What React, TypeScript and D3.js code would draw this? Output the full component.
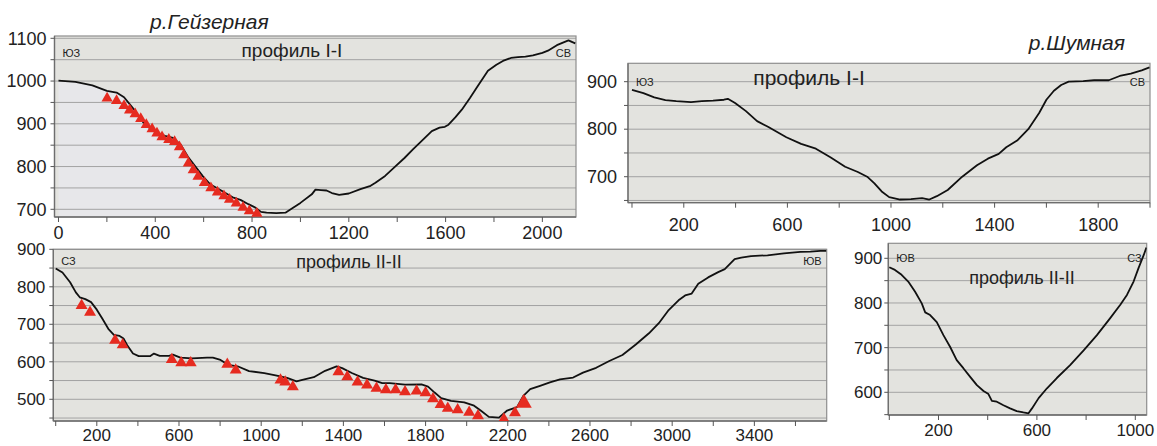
import * as d3 from "d3";

// --- р.Гейзерная, профиль I-I (distance m, elevation m)
const geyserProfile1 = [
  [0, 1001], [70, 998], [140, 990], [200, 977], [240, 973], [271, 962], [310, 935], [349, 904],
  [380, 888], [411, 877], [440, 872], [473, 867], [504, 852], [535, 823], [566, 800], [597, 777],
  [628, 758], [660, 748], [690, 738], [720, 728], [752, 722], [785, 712], [814, 704], [837, 694],
  [860, 692], [900, 691], [938, 692], [960, 700], [1000, 715], [1047, 735], [1062, 746], [1085, 745],
  [1108, 744], [1130, 738], [1160, 734], [1200, 737], [1248, 747], [1290, 755], [1310, 762],
  [1350, 778], [1388, 798], [1430, 820], [1465, 840], [1510, 865], [1543, 883], [1575, 891],
  [1597, 893], [1612, 898], [1640, 915], [1667, 933], [1700, 960], [1729, 985], [1775, 1024],
  [1810, 1038], [1837, 1047], [1870, 1054], [1899, 1056], [1930, 1057], [1961, 1060], [2000, 1066],
  [2023, 1071], [2060, 1084], [2085, 1090], [2108, 1095], [2124, 1091], [2136, 1088],
];
const geyserMarks1 = [
  [201, 960], [240, 954], [271, 942], [294, 932], [317, 923], [340, 912], [363, 898], [387, 888],
  [407, 878], [428, 869], [456, 863], [480, 858], [500, 846], [518, 827], [537, 808], [557, 792],
  [577, 777], [603, 762], [630, 750], [657, 740], [684, 731], [707, 723], [735, 714], [763, 704],
  [789, 696], [820, 690],
];

// --- р.Шумная, профиль I-I
const shumProfile1 = [
  [0, 883], [44, 876], [86, 867], [129, 861], [171, 859], [228, 857], [270, 859], [313, 860],
  [355, 862], [370, 864], [398, 855], [440, 838], [483, 817], [525, 805], [596, 783], [653, 769],
  [710, 759], [766, 741], [823, 721], [872, 710], [908, 700], [936, 686], [964, 669], [993, 657],
  [1035, 652], [1077, 653], [1120, 655], [1148, 652], [1177, 659], [1219, 672], [1275, 700],
  [1332, 724], [1374, 738], [1416, 748], [1445, 762], [1487, 776], [1530, 800], [1572, 834],
  [1600, 862], [1629, 881], [1657, 893], [1686, 900], [1742, 901], [1784, 903], [1841, 903],
  [1883, 912], [1926, 917], [1968, 924], [1998, 930],
];

// --- р.Гейзерная, профиль II-II
const geyserProfile2 = [
  [0, 849], [33, 838], [70, 812], [98, 785], [117, 772], [144, 767], [172, 759], [200, 739],
  [228, 714], [256, 688], [283, 672], [311, 669], [330, 662], [348, 644], [376, 622], [404, 615],
  [459, 615], [478, 622], [506, 616], [552, 616], [570, 619], [607, 611], [663, 609], [737, 611],
  [765, 611], [802, 605], [839, 592], [885, 588], [941, 575], [1015, 570], [1070, 564], [1126, 557],
  [1172, 548], [1200, 552], [1256, 559], [1311, 576], [1367, 588], [1394, 583], [1441, 570],
  [1496, 557], [1552, 550], [1589, 543], [1626, 543], [1663, 541], [1700, 539], [1780, 540],
  [1812, 534], [1844, 518], [1876, 503], [1924, 496], [1988, 492], [2036, 483], [2068, 470],
  [2108, 453], [2157, 451], [2197, 470], [2245, 479], [2277, 510], [2309, 527], [2357, 536],
  [2405, 545], [2454, 553], [2518, 558], [2566, 571], [2630, 584], [2694, 602], [2758, 618],
  [2823, 646], [2887, 676], [2935, 703], [2983, 738], [3031, 764], [3063, 777], [3095, 782],
  [3127, 808], [3175, 825], [3224, 839], [3256, 847], [3304, 874], [3336, 878], [3384, 882],
  [3464, 884], [3544, 889], [3624, 893], [3673, 894], [3721, 896], [3750, 896],
];
const geyserMarks2 = [
  [126, 750], [167, 732], [289, 657], [326, 645], [565, 606], [611, 597], [657, 597], [835, 593],
  [876, 578], [1094, 551], [1117, 546], [1154, 533], [1376, 573], [1419, 560], [1469, 546],
  [1515, 538], [1561, 529], [1607, 525], [1654, 525], [1700, 520], [1756, 522], [1800, 517],
  [1836, 501], [1873, 486], [1908, 476], [1956, 472], [2012, 465], [2055, 456], [2181, 447],
  [2235, 464],
];
const geyserBigMarks2 = [[2278, 490]];

// --- р.Шумная, профиль II-II
const shumProfile2 = [
  [0, 880], [23, 874], [50, 863], [77, 848], [105, 825], [132, 799], [146, 779], [166, 773],
  [193, 757], [220, 728], [247, 702], [274, 672], [301, 654], [328, 635], [356, 616], [383, 603],
  [403, 596], [417, 581], [437, 579], [464, 571], [491, 564], [518, 558], [545, 555], [566, 553],
  [580, 564], [607, 587], [641, 609], [681, 632], [735, 661], [790, 694], [844, 728], [898, 766],
  [939, 796], [966, 818], [993, 848], [1013, 878], [1034, 907], [1045, 924],
];

// tick labels
const ticksXGeyser1 = [0, 400, 800, 1200, 1600, 2000];
const ticksXShum1 = [200, 600, 1000, 1400, 1800];
const ticksXGeyser2 = [200, 600, 1000, 1400, 1800, 2200, 2600, 3000, 3400];
const ticksXShum2 = [200, 600, 1000];
const ticksYGeyser1 = [700, 800, 900, 1000, 1100];
const ticksYShum1 = [700, 800, 900];
const ticksYGeyser2 = [500, 600, 700, 800, 900];
const ticksYShum2 = [600, 700, 800, 900];

const FONT = "'Liberation Sans', Arial, sans-serif";
const BG = "#e3e3df";
const RED = "#e62b20";

type Pt = number[];

interface PanelProps {
  id: string;
  box: { l: number; r: number; t: number; b: number };
  xDom: [number, number];
  yDom: [number, number];
  profile: Pt[];
  marks?: Pt[];
  bigMarks?: Pt[];
  markSize?: number;
  xLabels: number[];
  yLabels: number[];
  xMax: number;
  fontSize: number;
  labelGap: number;
  xLabelDy: number;
  title: string;
  titleX: number;
  titleY: number;
  titleSize: number;
  dirL: string;
  dirR: string;
  dirY: number;
  shade?: number;
}

function Panel(p: PanelProps) {
  const { box } = p;
  const x = d3.scaleLinear().domain(p.xDom).range([box.l, box.r]);
  const y = d3.scaleLinear().domain(p.yDom).range([box.b, box.t]);
  const line = d3.line<Pt>().x(d => x(d[0])).y(d => y(d[1])).curve(d3.curveLinear);

  const grid = d3.range(Math.ceil(p.yDom[0] / 50) * 50, p.yDom[1] + 0.1, 50);
  const xTicks = d3.range(0, p.xMax + 1, 200);
  const tri = d3.symbol(d3.symbolTriangle, p.markSize ?? 55)() as string;
  const triBig = d3.symbol(d3.symbolTriangle, 110)() as string;

  let shadePath: string | null = null;
  if (p.shade) {
    const pts = p.profile.filter(d => d[0] <= p.shade!);
    shadePath = d3.area<Pt>().x(d => x(d[0])).y0(box.b).y1(d => y(d[1]))(pts);
  }

  return (
    <g>
      <defs>
        <clipPath id={`clip-${p.id}`}>
          <rect x={box.l} y={box.t} width={box.r - box.l} height={box.b - box.t} />
        </clipPath>
      </defs>
      <rect x={box.l} y={box.t} width={box.r - box.l} height={box.b - box.t} fill={BG} />
      {shadePath && <path d={shadePath} fill="#e7e7ea" />}
      {grid.map(v => (
        <line key={v} x1={box.l} x2={box.r} y1={y(v)} y2={y(v)} stroke="#a3a3a3" strokeWidth={1} />
      ))}
      <rect x={box.l} y={box.t} width={box.r - box.l} height={box.b - box.t}
        fill="none" stroke="#8e8e8e" strokeWidth={1.2} />
      <line x1={box.l} x2={box.l} y1={box.t} y2={box.b} stroke="#6e6e6e" strokeWidth={1.3} />
      <line x1={box.l} x2={box.r} y1={box.b} y2={box.b} stroke="#6e6e6e" strokeWidth={1.3} />

      {grid.map(v => (
        <line key={"yt" + v} x1={box.l - 4} x2={box.l} y1={y(v)} y2={y(v)} stroke="#555" strokeWidth={1} />
      ))}
      {xTicks.filter(v => x(v) >= box.l - 0.5 && x(v) <= box.r + 0.5).map(v => (
        <line key={"xt" + v} x1={x(v)} x2={x(v)} y1={box.b} y2={box.b + 5} stroke="#555" strokeWidth={1} />
      ))}
      {p.yLabels.map(v => (
        <text key={"yl" + v} x={box.l - p.labelGap} y={y(v)} dy="0.35em" textAnchor="end"
          fontFamily={FONT} fontSize={p.fontSize} fill="#222">{v}</text>
      ))}
      {p.xLabels.map(v => (
        <text key={"xl" + v} x={x(v)} y={box.b + p.xLabelDy} textAnchor="middle"
          fontFamily={FONT} fontSize={p.fontSize} fill="#222">{v}</text>
      ))}

      <g clipPath={`url(#clip-${p.id})`}>
        <path d={line(p.profile) ?? ""} fill="none" stroke="#111" strokeWidth={1.8} strokeLinejoin="round" />
        {(p.marks ?? []).map((d, i) => (
          <path key={"m" + i} d={tri} transform={`translate(${x(d[0])},${y(d[1])})`} fill={RED} />
        ))}
        {(p.bigMarks ?? []).map((d, i) => (
          <path key={"bm" + i} d={triBig} transform={`translate(${x(d[0])},${y(d[1])})`} fill={RED} />
        ))}
      </g>

      <text x={p.titleX} y={p.titleY} textAnchor="middle" fontFamily={FONT} fontSize={p.titleSize} fill="#222">
        {p.title}
      </text>
      <text x={box.l + 8} y={p.dirY} fontFamily={FONT} fontSize={11} fill="#222">{p.dirL}</text>
      <text x={box.r - 5} y={p.dirY} textAnchor="end" fontFamily={FONT} fontSize={11} fill="#222">{p.dirR}</text>
    </g>
  );
}

export default function App() {
  return (
    <svg width={1157} height={446} style={{ position: "absolute", left: 0, top: 0, background: "#fff" }}>
      <text x={150} y={29} fontFamily={FONT} fontStyle="italic" fontSize={21} fill="#222">р.Гейзерная</text>
      <text x={1125} y={50} textAnchor="end" fontFamily={FONT} fontStyle="italic" fontSize={21} fill="#222">р.Шумная</text>

      <Panel id="g1" box={{ l: 54.5, r: 576, t: 36, b: 217 }} xDom={[-16.5, 2139]} yDom={[682, 1105.4]}
        profile={geyserProfile1} marks={geyserMarks1} markSize={55}
        xLabels={ticksXGeyser1} yLabels={ticksYGeyser1} xMax={2100} fontSize={18} labelGap={8} xLabelDy={22}
        title="профиль I-I" titleX={292} titleY={57} titleSize={19}
        dirL="ЮЗ" dirR="СВ" dirY={57} shade={850} />

      <Panel id="s1" box={{ l: 628, r: 1150, t: 63.3, b: 202.7 }} xDom={[-15.4, 2000]} yDom={[645.3, 938.7]}
        profile={shumProfile1}
        xLabels={ticksXShum1} yLabels={ticksYShum1} xMax={2000} fontSize={18} labelGap={11} xLabelDy={28}
        title="профиль I-I" titleX={809} titleY={85} titleSize={21}
        dirL="ЮЗ" dirR="СВ" dirY={86} />

      <Panel id="g2" box={{ l: 53.3, r: 826.7, t: 249.3, b: 421 }} xDom={[-11.7, 3752]} yDom={[442.1, 900]}
        profile={geyserProfile2} marks={geyserMarks2} bigMarks={geyserBigMarks2} markSize={62}
        xLabels={ticksXGeyser2} yLabels={ticksYGeyser2} xMax={3700} fontSize={17} labelGap={8} xLabelDy={20}
        title="профиль II-II" titleX={349} titleY={268} titleSize={18}
        dirL="СЗ" dirR="ЮВ" dirY={265} />

      <Panel id="s2" box={{ l: 888.3, r: 1146.7, t: 243.3, b: 415 }} xDom={[-4, 1046.3]} yDom={[549.2, 933.6]}
        profile={shumProfile2}
        xLabels={ticksXShum2} yLabels={ticksYShum2} xMax={1000} fontSize={17} labelGap={6} xLabelDy={21}
        title="профиль II-II" titleX={1022} titleY={284} titleSize={18}
        dirL="ЮВ" dirR="СЗ" dirY={262} />
    </svg>
  );
}
